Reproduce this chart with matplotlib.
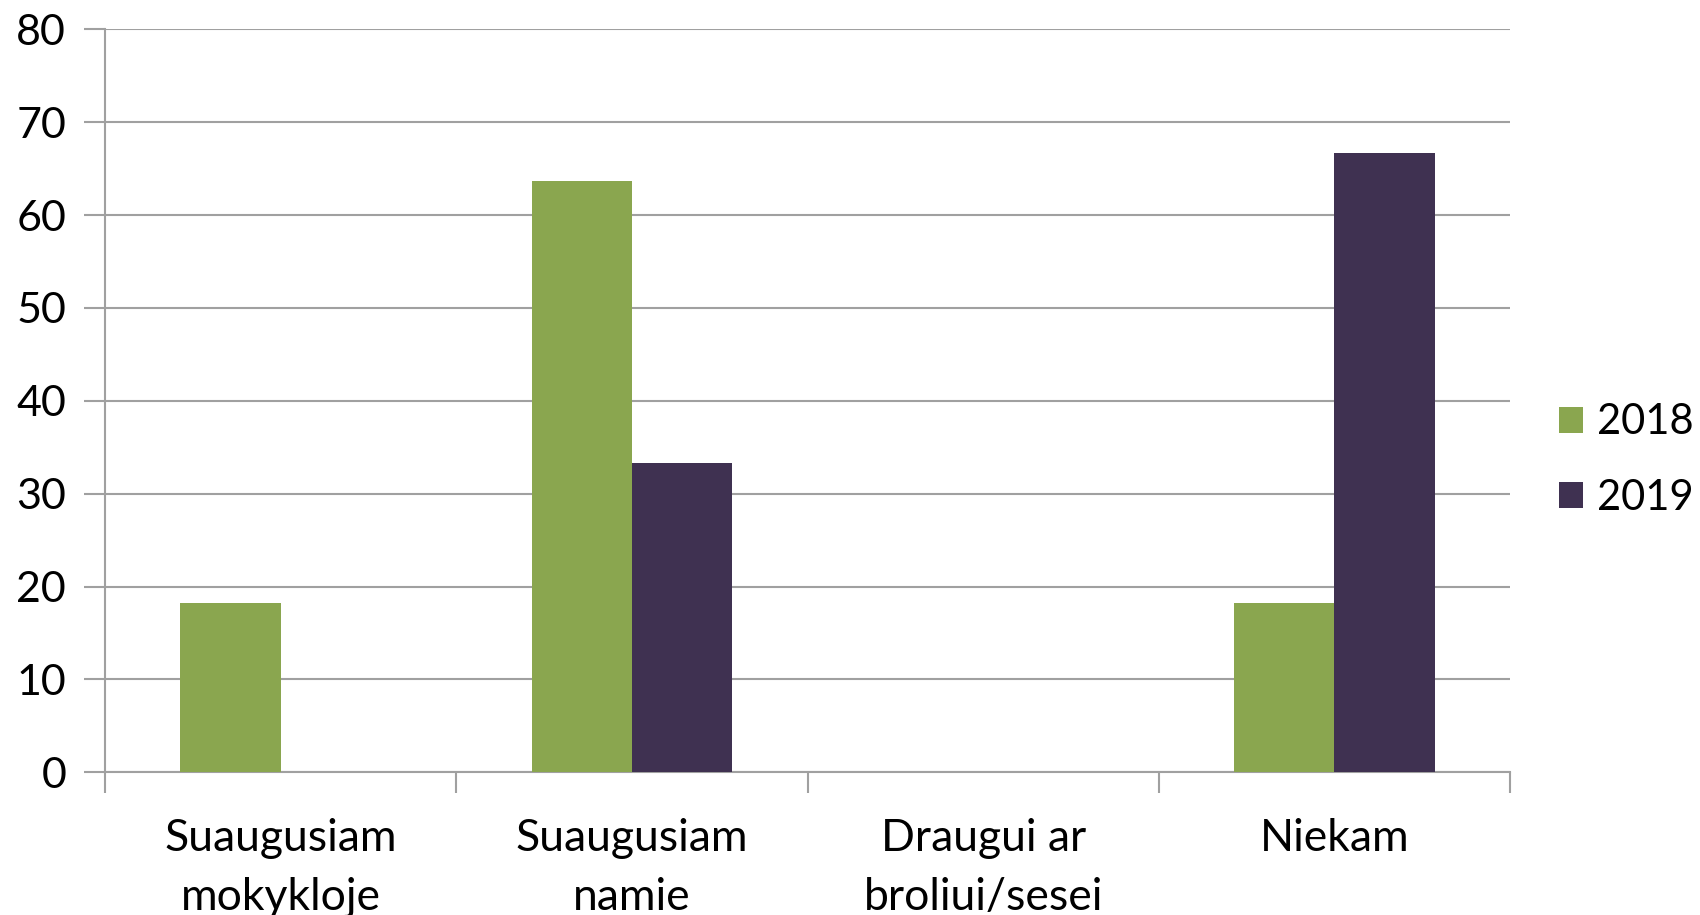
import numpy as np
import matplotlib.pyplot as plt

# ---- data ----
categories = ["Suaugusiam\nmokykloje", "Suaugusiam\nnamie", "Draugui ar\nbroliui/sesei", "Niekam"]
years = ["2018", "2019"]
values_2018 = [18.18, 63.64, 0, 18.18]
values_2019 = [0, 33.33, 0, 66.67]
y_ticks = [0, 10, 20, 30, 40, 50, 60, 70, 80]

green = "#8AA64F"
purple = "#3F3151"
grid_gray = "#A0A0A0"

plt.rcParams['font.family'] = ['Lato', 'DejaVu Sans']

fig = plt.figure(figsize=(17, 9.15), dpi=100)
ax = fig.add_axes([0.0618, 0.156, 0.8265, 0.812])

x = np.arange(len(categories))
w = 1 / 3.5
ax.bar(x - w / 2, values_2018, width=w, color=green, label=years[0], zorder=3)
ax.bar(x + w / 2, values_2019, width=w, color=purple, label=years[1], zorder=3)

ax.set_xlim(-0.5, len(categories) - 0.5)
ax.set_ylim(0, 80)
ax.set_yticks(y_ticks)
ax.set_yticklabels([str(t) for t in y_ticks], fontsize=31)
ax.yaxis.grid(True, color=grid_gray, linewidth=1.5, zorder=0)

# category labels at centres, tick marks at boundaries
ax.set_xticks(x)
ax.set_xticklabels(categories, fontsize=32, linespacing=1.55)
ax.tick_params(axis='x', length=0, pad=33)
ax.set_xticks(np.arange(-0.5, len(categories)), minor=True)
ax.tick_params(axis='x', which='minor', length=15, width=1.5, color=grid_gray)
ax.tick_params(axis='y', length=15, width=1.5, color=grid_gray, pad=13)

for s in ['top', 'right']:
    ax.spines[s].set_visible(False)
for s in ['left', 'bottom']:
    ax.spines[s].set_color(grid_gray)
    ax.spines[s].set_linewidth(1.5)

ax.legend(loc='center left', bbox_to_anchor=(1.023, 0.42), frameon=False,
          fontsize=30, handlelength=0.57, handleheight=0.57, handletextpad=0.33,
          labelspacing=0.9, borderaxespad=0)

fig.savefig("out.png", dpi=100)
